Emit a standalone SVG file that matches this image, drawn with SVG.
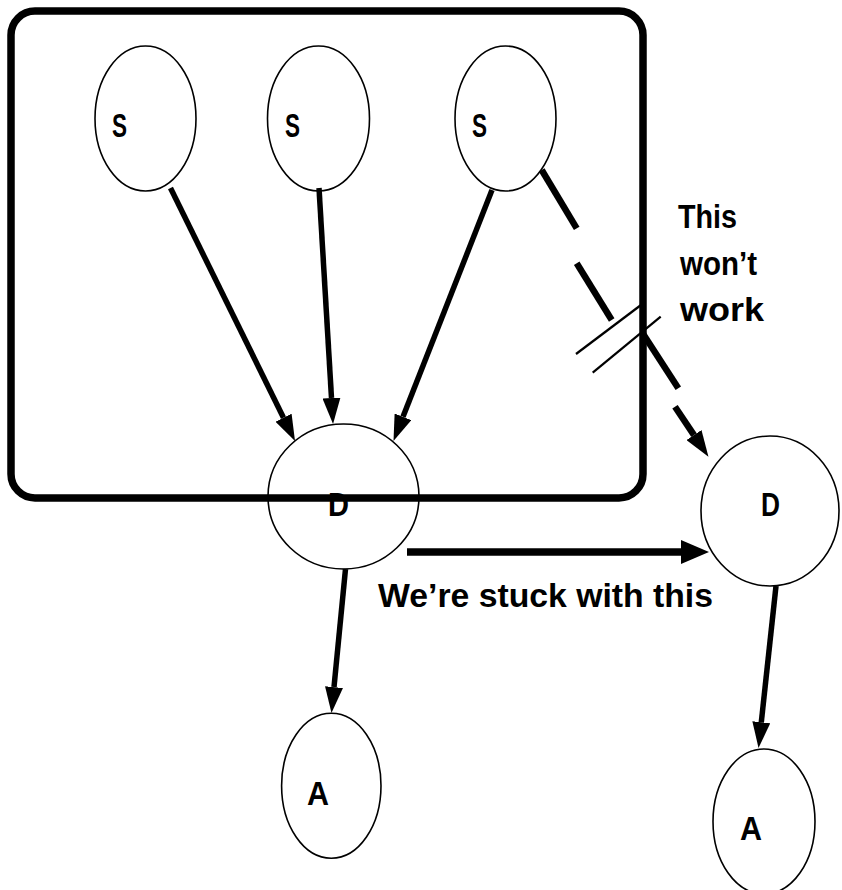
<svg xmlns="http://www.w3.org/2000/svg" width="842" height="890" viewBox="0 0 842 890">
  <style>
    .node { fill: none; stroke: #000; stroke-width: 1.6; }
    .lbl { font-family: "Liberation Sans", Arial, sans-serif; font-weight: bold; font-size: 33px; fill: #000; }
    .edge { stroke: #000; stroke-width: 5.5; fill: none; stroke-linecap: butt; }
    .thick { stroke-width: 7.5; }
    .dash { stroke-width: 6.5; }
    .hash { stroke: #000; stroke-width: 2.2; fill: none; }
    .frame { fill: none; stroke: #000; stroke-width: 7.5; }
  </style>
  <defs>
    <marker id="arrow" markerUnits="userSpaceOnUse" viewBox="0 0 26 18" refX="0" refY="9" markerWidth="26" markerHeight="18" orient="auto">
      <path d="M0,0 L26,9 L0,18 z" fill="#000"/>
    </marker>
    <marker id="arrow-lg" markerUnits="userSpaceOnUse" viewBox="0 0 28 24" refX="0" refY="12" markerWidth="28" markerHeight="24" orient="auto">
      <path d="M0,0 L28,12 L0,24 z" fill="#000"/>
    </marker>
  </defs>

  <rect x="0" y="0" width="842" height="890" fill="#fff"/>

  <!-- plate enclosing the S nodes and the first D -->
  <rect id="plate" class="frame" x="11" y="11" width="632" height="487" rx="24" ry="24"/>

  <g id="s1">
    <ellipse class="node" cx="145.5" cy="118.5" rx="50.5" ry="72.5"/>
    <text class="lbl" x="112" y="137" textLength="15" lengthAdjust="spacingAndGlyphs">S</text>
  </g>
  <g id="s2">
    <ellipse class="node" cx="318.5" cy="118.5" rx="51" ry="72.5"/>
    <text class="lbl" x="285" y="137" textLength="15" lengthAdjust="spacingAndGlyphs">S</text>
  </g>
  <g id="s3">
    <ellipse class="node" cx="505.5" cy="118.5" rx="50.5" ry="72.5"/>
    <text class="lbl" x="472" y="137" textLength="15" lengthAdjust="spacingAndGlyphs">S</text>
  </g>
  <g id="d1">
    <ellipse class="node" cx="343.5" cy="496.5" rx="75.5" ry="72.5"/>
    <text class="lbl" x="328" y="516" textLength="21" lengthAdjust="spacingAndGlyphs">D</text>
  </g>
  <g id="d2">
    <ellipse class="node" cx="770" cy="511" rx="69" ry="75"/>
    <text class="lbl" x="761" y="516" textLength="19" lengthAdjust="spacingAndGlyphs">D</text>
  </g>
  <g id="a1">
    <ellipse class="node" cx="331.3" cy="785.8" rx="49.7" ry="72.5"/>
    <text class="lbl" x="307" y="805" textLength="22" lengthAdjust="spacingAndGlyphs">A</text>
  </g>
  <g id="a2">
    <ellipse class="node" cx="764" cy="821.5" rx="51" ry="72.5"/>
    <text class="lbl" x="740" y="840" textLength="22" lengthAdjust="spacingAndGlyphs">A</text>
  </g>

  <g id="connectors">
    <line class="edge" x1="170.5" y1="188" x2="283.5" y2="417.7" marker-end="url(#arrow)"/>
    <line class="edge" x1="319" y1="188" x2="331.5" y2="398" marker-end="url(#arrow)"/>
    <line class="edge" x1="492" y1="190" x2="403" y2="416.8" marker-end="url(#arrow)"/>
    <line class="edge thick" x1="407" y1="552" x2="681" y2="552" marker-end="url(#arrow-lg)"/>
    <line class="edge" x1="345.5" y1="569" x2="334" y2="687.1" marker-end="url(#arrow)"/>
    <line class="edge" x1="776" y1="586" x2="761.3" y2="722.2" marker-end="url(#arrow)"/>

    <!-- broken dashed link from the third S to the outer D -->
    <line class="edge dash" x1="541.7" y1="170" x2="576.7" y2="228.3"/>
    <line class="edge dash" x1="576.7" y1="263.3" x2="611.7" y2="320"/>
    <line class="edge dash" x1="641.7" y1="331.7" x2="678.3" y2="388.3"/>
    <line class="edge dash" x1="675" y1="406.7" x2="694" y2="435.1" marker-end="url(#arrow)"/>

    <!-- cut marks -->
    <line class="hash" x1="576" y1="354" x2="641" y2="305"/>
    <line class="hash" x1="592.7" y1="372.7" x2="660.7" y2="316.7"/>
  </g>

  <g id="notes">
    <text class="lbl" x="678" y="228" textLength="59" lengthAdjust="spacingAndGlyphs">This</text>
    <text class="lbl" x="680" y="275" textLength="77" lengthAdjust="spacingAndGlyphs">won’t</text>
    <text class="lbl" x="680" y="321" textLength="84" lengthAdjust="spacingAndGlyphs">work</text>
    <text class="lbl" x="378" y="607" textLength="335" lengthAdjust="spacingAndGlyphs">We’re stuck with this</text>
  </g>
</svg>
